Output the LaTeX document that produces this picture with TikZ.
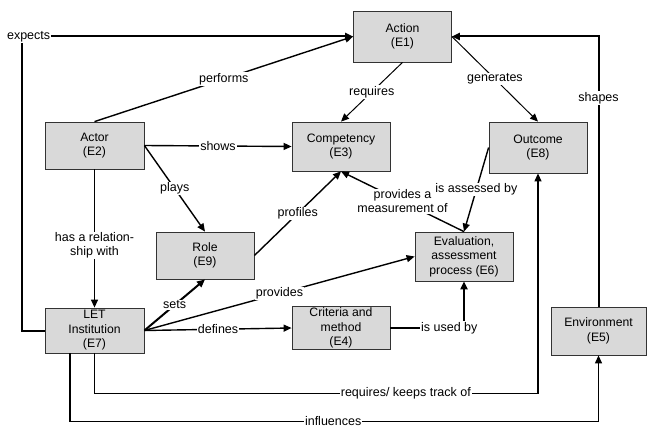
\documentclass[tikz,border=0pt]{standalone}
\usepackage{fontspec}
\setmainfont{Liberation Sans}
\usetikzlibrary{arrows.meta}

\begin{document}
\begin{tikzpicture}[x=1pt,y=-1pt,
        entity/.style={draw=black!80,fill=black!15,line width=0.8pt,minimum width=98pt,minimum height=48pt,align=center,inner sep=1pt,font=\fontsize{12.2}{14.5}\selectfont},
        lbl/.style={fill=white,inner sep=1pt,align=center,font=\fontsize{12.5}{14}\selectfont},
        link/.style={line width=1.4pt,-{Triangle[length=8pt,width=7pt]}},
        thinlink/.style={link,line width=1pt},
        heavylink/.style={link,line width=2pt}]
        \useasboundingbox (0,0) rectangle (647,428);

        % entities
        \node[entity,minimum height=51pt] (act) at (402.5,36.5) {Action\\(E1)};
        \node[entity,minimum width=99pt,minimum height=47pt] (actor) at (94.5,145.5) {Actor\\(E2)};
        \node[entity,minimum height=49pt] (comp) at (341,146.5) {Competency\\(E3)};
        \node[entity,minimum height=51pt] (outc) at (538,147.5) {Outcome\\(E8)};
        \node[entity,minimum height=47pt] (role) at (205,255.5) {Role\\(E9)};
        \node[entity,minimum height=49pt] (eval) at (464,256.5) {Evaluation,\\assessment\\process (E6)};
        \node[entity,minimum width=99pt,minimum height=45pt] (inst) at (94.5,330.5) {LET\\Institution\\(E7)};
        \node[entity,minimum height=42pt] (crit) at (341,328) {Criteria and\\method\\(E4)};
        \node[entity,minimum width=95pt] (env) at (598.5,331) {Environment\\(E5)};

        \coordinate (expc) at (22,36.5);
        \coordinate (infl) at ([xshift=-24.5pt]inst.south);

        % relations
        \draw[heavylink] (inst.west) -| (expc) -- node[lbl,pos=0.02] {expects} (act.west);
        \draw[link] (actor.north) -- node[lbl] {performs} (act.west);
        \draw[link] (actor.east) -- node[lbl] {shows} (comp.west);
        \draw[link] (actor.east) -- node[lbl] {plays} (role.north);
        \draw[link] (actor.south) -- node[lbl,pos=0.55] {has a relation-\\ship with} (inst.north);
        \draw[link] (role.east) -- node[lbl] {profiles} (comp.south);
        \draw[thinlink] (act.south) -- node[lbl] {requires} (comp.north);
        \draw[thinlink] (act.east) -- node[lbl] {generates} (outc.north);
        \draw[heavylink] (env.north) |- node[lbl,pos=0.386] {shapes} (act.east);
        \draw[link] (eval.north) -- node[lbl] {provides a\\measurement of} (comp.south);
        \draw[link] (outc.west) -- node[lbl] {is assessed by} (eval.north);
        \draw[link] (inst.east) -- node[lbl] {provides} (eval.west);
        \draw[heavylink] (inst.east) -- node[lbl] {sets} (role.south);
        \draw[link] (inst.east) -- node[lbl] {defines} (crit.west);
        \draw[heavylink] (crit.east) -| node[lbl,pos=0.4] {is used by} (eval.south);
        \draw[link,line width=1.2pt] (inst.south) -- ++(0,40) -| node[lbl,pos=0.351] {requires/ keeps track of} (outc.south);
        \draw[link,line width=1.2pt] (infl) -- ++(0,68) -| node[lbl,pos=0.249] {influences} (env.south);

\end{tikzpicture}
\end{document}
